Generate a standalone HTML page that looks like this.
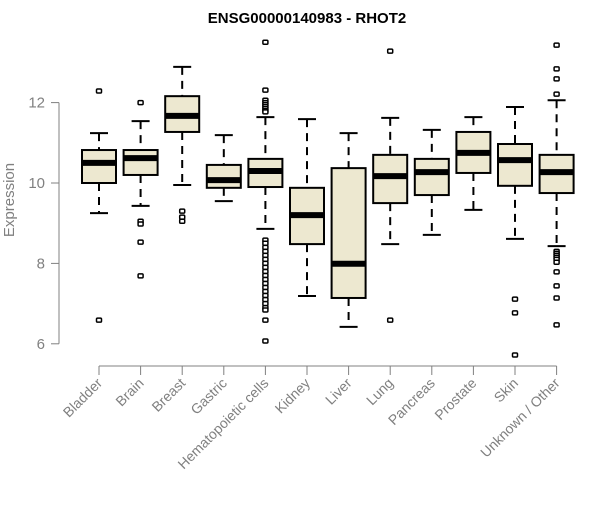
<!DOCTYPE html>
<html><head><meta charset="utf-8"><style>
body{margin:0;background:#fff}
svg text{font-family:"Liberation Sans",Arial,sans-serif}
</style></head><body>
<svg id="chart" width="600" height="500" viewBox="0 0 600 500">
<text x="307" y="23" text-anchor="middle" font-size="15" font-weight="bold">ENSG00000140983 - RHOT2</text>
<text transform="translate(14,200) rotate(-90)" text-anchor="middle" font-size="15" fill="#808080">Expression</text>
<g id="yaxis"></g>
<g id="xaxis"></g>
<g id="boxes"></g>
</svg>
<script>
const categories=["Bladder","Brain","Breast","Gastric","Hematopoietic cells","Kidney","Liver","Lung","Pancreas","Prostate","Skin","Unknown / Other"];
const whiskerLow=[9.25,9.43,9.95,9.55,8.86,7.19,6.42,8.48,8.71,9.33,8.61,8.43];
const q1=[10.0,10.2,11.27,9.88,9.9,8.48,7.14,9.5,9.7,10.25,9.93,9.75];
const medians=[10.5,10.62,11.67,10.07,10.3,9.2,7.99,10.17,10.27,10.75,10.57,10.27];
const q3=[10.82,10.82,12.16,10.45,10.6,9.88,10.37,10.7,10.6,11.27,10.97,10.7];
const whiskerHigh=[11.24,11.54,12.89,11.19,11.64,11.59,11.24,11.62,11.32,11.64,11.89,12.06];
const outliers=[[12.29,6.59],[12.0,9.05,8.98,8.53,7.69],[9.3,9.15,9.05],[],
[13.5,12.31,12.06,12.0,11.95,11.9,11.85,11.8,11.77,8.58,8.5,8.4,8.3,8.2,8.1,8.0,7.9,7.8,7.7,7.6,7.5,7.4,7.3,7.2,7.1,7.0,6.9,6.84,6.59,6.07],
[],[],[13.28,6.59],[],[],[7.11,6.77,5.72],
[13.43,12.84,12.59,12.21,8.3,8.25,8.2,8.15,8.1,8.03,7.79,7.44,7.14,6.47]];
const yTicks=[6,8,10,12];
const NS="http://www.w3.org/2000/svg";
const y=v=>183-(v-10)*40.2;
const x=i=>99+i*41.6;
function mk(tag,attrs,parent){const e=document.createElementNS(NS,tag);for(const k in attrs)e.setAttribute(k,attrs[k]);parent.appendChild(e);return e;}
const ya=document.getElementById('yaxis'),xa=document.getElementById('xaxis'),bx=document.getElementById('boxes');
const yl=mk('line',{x1:59,x2:59,y1:y(yTicks[yTicks.length-1]),y2:y(yTicks[0]),stroke:'#808080'},ya);


yTicks.forEach(t=>{
 const tk=mk('line',{x1:51,x2:59,y1:y(t),y2:y(t),stroke:'#808080'},ya);
 
 
 const tl=mk('text',{x:45,y:y(t)+5,'text-anchor':'end','font-size':15,fill:'#808080'},ya);
 tl.textContent=t;
 
 
});
const xl=mk('line',{x1:x(0),x2:x(categories.length-1),y1:366,y2:366,stroke:'#808080'},xa);


categories.forEach((c,i)=>{
 const cx=x(i);
 const tk=mk('line',{x1:cx,x2:cx,y1:366,y2:375,stroke:'#808080'},xa);
 
 
 const tl=mk('text',{transform:`translate(${cx+4},${384}) rotate(-45)`,'text-anchor':'end','font-size':14,fill:'#808080'},xa);
 tl.textContent=c;
 
 
 const g=mk('g',{},bx);
 
 
 mk('line',{x1:cx,x2:cx,y1:y(whiskerHigh[i]),y2:y(q3[i]),stroke:'#000','stroke-width':2,'stroke-dasharray':'8,6'},g);
 mk('line',{x1:cx,x2:cx,y1:y(q1[i]),y2:y(whiskerLow[i]),stroke:'#000','stroke-width':2,'stroke-dasharray':'8,6'},g);
 mk('line',{x1:cx-9,x2:cx+9,y1:y(whiskerHigh[i]),y2:y(whiskerHigh[i]),stroke:'#000','stroke-width':2},g);
 mk('line',{x1:cx-9,x2:cx+9,y1:y(whiskerLow[i]),y2:y(whiskerLow[i]),stroke:'#000','stroke-width':2},g);
 mk('rect',{x:cx-17,y:y(q3[i]),width:34,height:y(q1[i])-y(q3[i]),fill:'#ede8d0',stroke:'#000','stroke-width':2},g);
 mk('line',{x1:cx-17,x2:cx+17,y1:y(medians[i]),y2:y(medians[i]),stroke:'#000','stroke-width':6},g);
 outliers[i].forEach(o=>{
  const p=mk('rect',{x:cx-2.5,y:y(o)-2,width:5,height:4,fill:'#fff',stroke:'#000','stroke-width':1.5,rx:1},g);
  
  
 });
});
</script>
</body></html>
